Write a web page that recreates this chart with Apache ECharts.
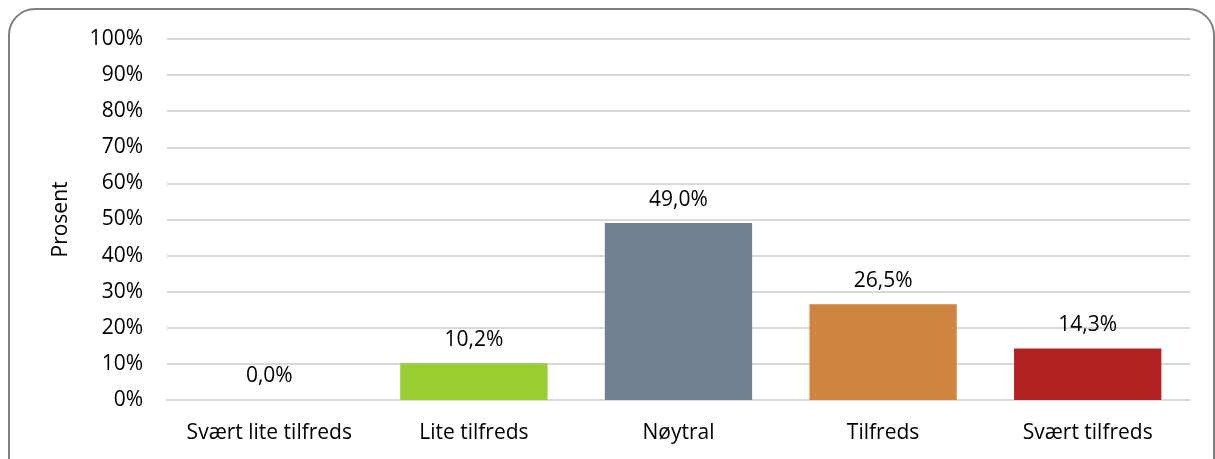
<!DOCTYPE html>
<html><head><meta charset="utf-8">
<script src="https://cdn.jsdelivr.net/npm/echarts@6/dist/echarts.min.js"></script>
<style>html,body{margin:0;padding:0;background:#fff}#c{width:1215px;height:459px}</style>
</head><body><div id="c"></div>
<script>
const categories = ["Svært lite tilfreds", "Lite tilfreds", "Nøytral", "Tilfreds", "Svært tilfreds"];
const values = [0.0, 10.2, 49.0, 26.5, 14.3];
const colors = ["#9ACD32", "#9ACD32", "#708090", "#CD853F", "#B22222"];
const yTicks = [0, 10, 20, 30, 40, 50, 60, 70, 80, 90, 100];
const font = "'Open Sans', 'Liberation Sans', sans-serif";
const fs = 21;
const chart = echarts.init(document.getElementById('c'));
chart.setOption({
  animation: false,
  graphic: [{type: 'rect', shape: {x: 9, y: 9, width: 1205, height: 480, r: 26},
    style: {fill: 'none', stroke: '#808080', lineWidth: 2}, silent: true}],
  grid: {left: 167, right: 25, top: 39, bottom: 59},
  xAxis: {type: 'category', data: categories,
    axisLine: {show: true, lineStyle: {color: '#d9d9d9', width: 2}},
    axisTick: {show: false},
    axisLabel: {color: '#000', fontSize: fs, fontFamily: font, margin: 23, interval: 0, hideOverlap: false}},
  yAxis: {type: 'value', min: 0, max: 100, interval: 10,
    name: 'Prosent', nameLocation: 'middle', nameGap: 95, nameRotate: 90,
    nameTextStyle: {color: '#000', fontSize: fs, fontFamily: font},
    axisLine: {show: false}, axisTick: {show: false},
    axisLabel: {color: '#000', fontSize: fs, fontFamily: font, margin: 24,
      formatter: v => yTicks.includes(v) ? v + '%' : ''},
    splitLine: {lineStyle: {color: '#d9d9d9', width: 2}}},
  series: [{type: 'bar', barWidth: '72%',
    data: values.map((v, i) => ({value: v, itemStyle: {color: colors[i]}})),
    label: {show: true, position: 'top', distance: 13, color: '#000', fontSize: fs, fontFamily: font,
      formatter: p => p.value.toFixed(1).replace('.', ',') + '%'}}]
});
</script></body></html>
